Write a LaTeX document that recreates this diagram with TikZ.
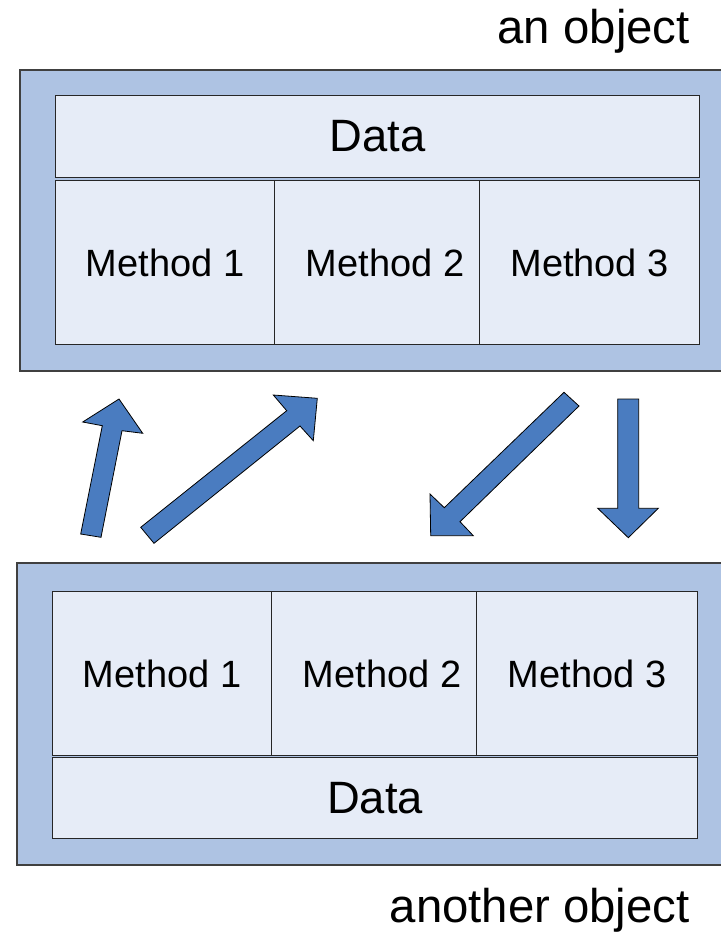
\documentclass[tikz,border=0pt]{standalone}
\usepackage{fontspec}
\setmainfont{Liberation Sans}
\usetikzlibrary{positioning}
\newlength\px
\setlength\px{0.75pt}
\definecolor{outerblue}{RGB}{174,195,227}
\definecolor{innerblue}{RGB}{230,236,247}
\definecolor{arrowblue}{RGB}{74,124,192}

\begin{document}
\begin{tikzpicture}[x=1\px,y=-1\px,
   objbox/.style={draw=black!75,line width=1.2pt,fill=outerblue},
   cell/.style={draw=black!85,line width=0.9pt,fill=innerblue,anchor=north west,
      inner sep=0pt,font=\fontsize{28.5}{34}\selectfont},
   datacell/.style={cell,font=\fontsize{34}{40}\selectfont},
   blockarrow/.style={draw=black,line width=0.6pt,fill=arrowblue,line join=miter},
   caption/.style={font=\fontsize{35.5}{41}\selectfont,inner sep=0pt}]
\useasboundingbox (0,0) rectangle (721,932);
\clip (0,0) rectangle (721,932);
% an object
\draw[objbox] (20,70) rectangle (740,371);
\node[datacell,minimum width=644\px,minimum height=82\px] (data1) at (55,95) {Data};
\node[cell,minimum width=219\px,minimum height=164\px] (m11) at (55,180) {Method 1};
\node[cell,minimum width=205\px,minimum height=164\px] (m12) at (274,180) {\hspace*{16\px}Method 2};
\node[cell,minimum width=220\px,minimum height=164\px] (m13) at (479,180) {Method 3};
\node[caption,anchor=base east] (obj1) at (690,43) {an object};
% another object
\draw[objbox] (17,563) rectangle (740,865);
\node[cell,minimum width=219\px,minimum height=164\px] (m21) at (52,591) {Method 1};
\node[cell,minimum width=205\px,minimum height=164\px] (m22) at (271,591) {\hspace*{16\px}Method 2};
\node[cell,minimum width=221\px,minimum height=164\px] (m23) at (476,591) {Method 3};
\node[datacell,minimum width=645\px,minimum height=81\px] (data2) at (52,757) {Data};
\node[caption,anchor=base east] (obj2) at (690,922) {another object};
% messages
\draw[blockarrow] (80.7,534) -- (101,537.3) -- (122,430.7) -- (142.7,433.3)
   -- (119,399) -- (82.7,422) -- (102.3,425.7) -- cycle;
\draw[blockarrow] (140.7,527.3) -- (154,543.3) -- (300,426) -- (313.3,440.7)
   -- (317.3,398.3) -- (273.3,395) -- (286.7,410.7) -- cycle;
\draw[blockarrow] (564,392.3) -- (579,406) -- (460,521.7) -- (473.3,535.7)
   -- (430.7,535.7) -- (430,494) -- (444.3,507.7) -- cycle;
\draw[blockarrow] (617.7,399) -- (638.7,399) -- (638.7,508.3) -- (658.3,508.3)
   -- (628.3,537.7) -- (597.7,508.3) -- (617.7,508.3) -- cycle;
\end{tikzpicture}
\end{document}
